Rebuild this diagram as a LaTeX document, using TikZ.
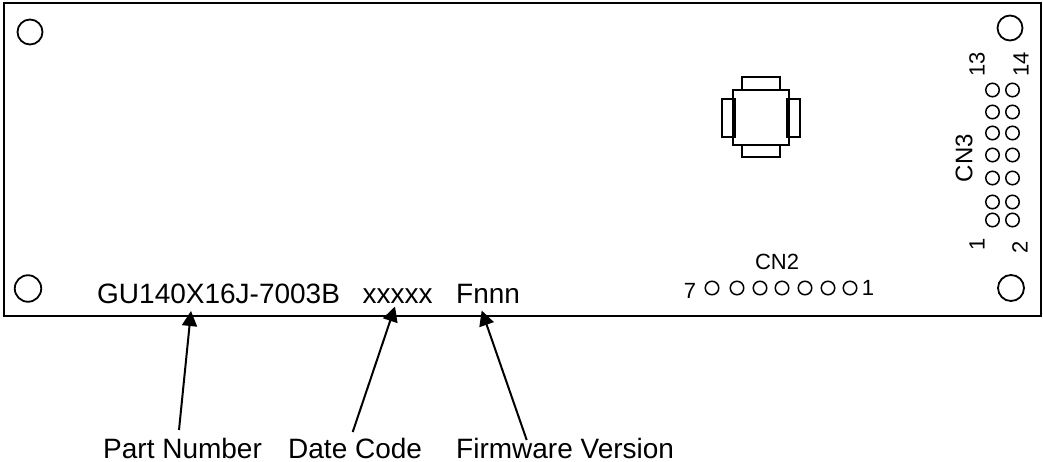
\documentclass[tikz,border=0pt]{standalone}
\usepackage{fontspec}
\setmainfont{Liberation Sans}
\usetikzlibrary{arrows.meta}
\tikzset{
 x=1pt,y=-1pt,
 outline/.style={draw=black,line width=2pt},
 hole/.style={circle,draw=black,line width=1.8pt,inner sep=0pt,outer sep=0pt,minimum size=#1},
 pin/.style={circle,draw=black,line width=1.5pt,inner sep=0pt,outer sep=0pt,minimum size=13.5pt},
 biglabel/.style={inner sep=0pt,font=\fontsize{28}{30}\selectfont,text=black,anchor=base west},
 smalllabel/.style={inner sep=0pt,font=\fontsize{22}{24}\selectfont,text=black},
 pointer/.style={draw=black,line width=2pt,-{Triangle[length=15pt,width=15pt]},shorten >=0pt},
}
\begin{document}
\begin{tikzpicture}
\useasboundingbox (0,0) rectangle (1043,462);
\fill[white] (0,0) rectangle (1043,462);
% board
\draw[outline] (4,3) rectangle (1041,316);
% mounting holes
\node[hole=25pt] (h1) at (30,32) {};
\node[hole=25pt] (h2) at (1010,28) {};
\node[hole=26.5pt] (h3) at (28,288.5) {};
\node[hole=26pt] (h4) at (1011,288) {};
% component
\draw[outline] (742,90) rectangle (780,77);
\draw[outline] (742,145) rectangle (780,157);
\draw[outline] (722,99) rectangle (735,137);
\draw[outline] (787,99) rectangle (800,137);
\draw[outline] (733,90) rectangle (789,145);
\draw[black,line width=3pt] (734.5,99) -- (734.5,137) (787.5,99) -- (787.5,137);
% CN3
\foreach \n/\y in {a/90,b/112,c/133,d/155,e/178,f/202,g/220}{
  \node[pin] (p1\n) at (992.5,\y) {};
  \node[pin] (p2\n) at (1012.5,\y) {};
}
\node[smalllabel,rotate=90] (cn3) at (964,158) {\fontsize{24}{26}\selectfont CN3};
\node[smalllabel,rotate=90] (l13) at (977,64) {13};
\node[smalllabel,rotate=90] (l14) at (1021,64) {14};
\node[smalllabel,rotate=90] (l1) at (977,244) {1};
\node[smalllabel,rotate=90] (l2) at (1020,247) {2};
% CN2
\foreach \n/\x in {a/712,b/737,c/760,d/782,e/805,f/828,g/850}{
  \node[pin] (q\n) at (\x,288) {};
}
\node[smalllabel] (cn2) at (777,262) {CN2};
\node[smalllabel] (l7) at (690,291) {7};
\node[smalllabel] (l1b) at (868,288) {1};
% labels on board
\node[biglabel] (pn) at (97,303) {GU140X16J-7003B};
\node[biglabel] (dc) at (362.5,303) {xxxxx};
\node[biglabel] (fw) at (456,303) {Fnnn};
% callouts
\node[biglabel] (tpn) at (103,458.5) {Part Number};
\node[biglabel] (tdc) at (288,458.5) {Date Code};
\node[biglabel] (tfw) at (456,458.5) {Firmware Version};
\coordinate (apn) at (179,430);
\coordinate (bpn) at (191,311);
\coordinate (adc) at (352.7,432);
\coordinate (bdc) at (395,306.5);
\coordinate (afw) at (526.7,440);
\coordinate (bfw) at (481.7,310.5);
\draw[pointer] (apn) -- (bpn);
\draw[pointer] (adc) -- (bdc);
\draw[pointer] (afw) -- (bfw);
\end{tikzpicture}
\end{document}
